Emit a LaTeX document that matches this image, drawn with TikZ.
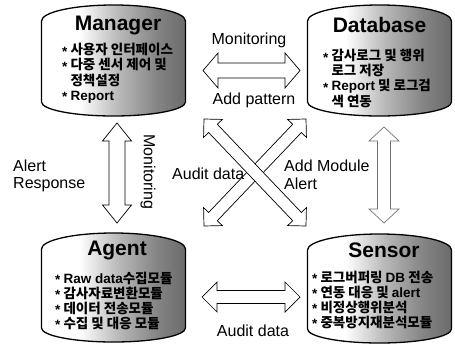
\documentclass[tikz,border=0pt]{standalone}
\usepackage{fontspec}
\setmainfont{Liberation Sans}
\newfontfamily\kofont{Noto Sans CJK KR}
\usetikzlibrary{calc}

% grey wash on the right half of each drum
\pgfdeclarehorizontalshading{drumwash}{100bp}{color(0bp)=(white); color(25bp)=(white); color(38bp)=(white); color(52bp)=(black!28); color(65bp)=(black!48); color(75bp)=(black!58); color(100bp)=(black!58)}

\tikzset{
  drum/.style={draw=black, line width=1.3pt, shading=drumwash},
  drumhead/.style={font=\bfseries\fontsize{21}{24}\selectfont, inner sep=0pt, anchor=base},
  itemline/.style={font=\kofont\bfseries\fontsize{13.5}{15}\selectfont, inner sep=0pt,
    text height=10pt, text depth=2.5pt, anchor=base west},
  lbl/.style={font=\fontsize{16}{18}\selectfont, inner sep=0pt},
  fatarrow/.style={draw=black, line width=0.7pt, fill=white, line join=miter},
}

% drum outline: #1 name, #2 centre x, #3 upper side y, #4 lower side y
\newcommand\drum[4]{%
  \path[drum] ({#2-72},#3) -- ({#2-72},#4)
    .. controls ({#2-72},{#4+0.5523*14}) and ({#2-0.5523*72},{#4+14}) .. (#2,{#4+14})
    .. controls ({#2+0.5523*72},{#4+14}) and ({#2+72},{#4+0.5523*14}) .. ({#2+72},#4)
    -- ({#2+72},#3)
    .. controls ({#2+72},{#3-0.5523*16}) and ({#2+0.5523*72},{#3-16}) .. (#2,{#3-16})
    .. controls ({#2-0.5523*72},{#3-16}) and ({#2-72},{#3-0.5523*16}) .. ({#2-72},#3) -- cycle;
  \node[minimum width=144pt, minimum height={#4-#3+30}, inner sep=0pt] (#1) at (#2,{(#3+#4)/2}) {};
}

% double-headed block arrow: #2 -> #3, head length #4, half head width #5, half shaft width #6
\newcommand\fatarrow[6][]{%
  \draw[fatarrow,#1] (#2)
    -- ($($(#2)!#4pt!(#3)$)!#5pt!90:(#3)$)
    -- ($($(#2)!#4pt!(#3)$)!#6pt!90:(#3)$)
    -- ($($(#3)!#4pt!(#2)$)!#6pt!-90:(#2)$)
    -- ($($(#3)!#4pt!(#2)$)!#5pt!-90:(#2)$)
    -- (#3)
    -- ($($(#3)!#4pt!(#2)$)!#5pt!90:(#2)$)
    -- ($($(#3)!#4pt!(#2)$)!#6pt!90:(#2)$)
    -- ($($(#2)!#4pt!(#3)$)!#6pt!-90:(#3)$)
    -- ($($(#2)!#4pt!(#3)$)!#5pt!-90:(#3)$)
    -- cycle;
}

\begin{document}
\begin{tikzpicture}[x=1pt, y=-1pt]
\useasboundingbox (0,0) rectangle (455,345);

% the four drums
\drum{manager}{113.5}{21}{102}
\drum{database}{379.5}{21}{102}
\drum{agent}{113.5}{249}{328}
\drum{sensor}{379.5}{250}{329}

% titles
\node[drumhead] (manager-t) at (118,31) {Manager};
\node[drumhead] (database-t) at (379.5,33) {Database};
\node[drumhead] (agent-t) at (117,255) {Agent};
\node[drumhead] (sensor-t) at (384,257) {Sensor};

% item lists (Latin words in the sans main face)
\newcommand\bul{\raisebox{-0.1em}{\rmfamily *}\ }
\newcommand\ind{\phantom{\bul}}
\newcommand\lat[1]{{\rmfamily #1}}
\node[itemline] (manager-1) at (62,55) {\bul 사용자 인터페이스};
\node[itemline] (manager-2) at (62,70) {\bul 다중 센서 제어 및};
\node[itemline] (manager-3) at (62,85) {\ind 정책설정};
\node[itemline] (manager-4) at (62,100) {\bul \lat{Report}};

\node[itemline] (database-1) at (323,61) {\bul 감사로그 및 행위};
\node[itemline] (database-2) at (323,76) {\ind 로그 저장};
\node[itemline] (database-3) at (323,91) {\bul \lat{Report} 및 로그검};
\node[itemline] (database-4) at (323,106) {\ind 색 연동};

\node[itemline] (agent-1) at (55,283) {\bul \lat{Raw data}수집모듈};
\node[itemline] (agent-2) at (55,298) {\bul 감사자료변환모듈};
\node[itemline] (agent-3) at (55,313) {\bul 데이터 전송모듈};
\node[itemline] (agent-4) at (55,328) {\bul 수집 및 대응 모듈};

\node[itemline] (sensor-1) at (312,282) {\bul 로그버퍼링 \lat{DB} 전송};
\node[itemline] (sensor-2) at (312,297) {\bul 연동 대응 및 \lat{alert}};
\node[itemline] (sensor-3) at (312,312) {\bul 비정상행위분석};
\node[itemline] (sensor-4) at (312,327) {\bul 중복방지재분석모듈};

% arrow end points
\coordinate (md-a) at (203,70.5);  \coordinate (md-b) at (300,70.5);
\coordinate (as-a) at (202,297);   \coordinate (as-b) at (300,297);
\coordinate (ma-a) at (117,123);   \coordinate (ma-b) at (117,223);
\coordinate (ds-a) at (384,127);   \coordinate (ds-b) at (384,223);
\coordinate (ms-a) at (204,119);   \coordinate (ms-b) at (306,226);
\coordinate (da-a) at (306,119);   \coordinate (da-b) at (204,226);

% block arrows
\fatarrow{md-a}{md-b}{15}{17.5}{7.5}
\fatarrow{as-a}{as-b}{15}{15}{6.5}
\fatarrow{ma-a}{ma-b}{18}{14.5}{8}
\fatarrow[draw=black!55]{ds-a}{ds-b}{14}{15}{6.5}
\fatarrow{da-a}{da-b}{13}{13}{6}
\fatarrow{ms-a}{ms-b}{13}{13}{6}

% arrow labels
\node[lbl, anchor=base] (l-mon) at (249,45) {Monitoring};
\node[lbl, anchor=base] (l-pat) at (254,104) {Add pattern};
\node[lbl, anchor=base] (l-aud2) at (253,336) {Audit data};
\node[lbl, anchor=base west] (l-alert) at (13,171) {Alert};
\node[lbl, anchor=base west] (l-resp) at (13,188) {Response};
\node[lbl, rotate=-90] (l-mon2) at (148,172) {Monitoring};
\node[lbl, anchor=base west] (l-aud) at (172,179) {Audit data};
\node[lbl, anchor=base west] (l-mod) at (284,171) {Add Module};
\node[lbl, anchor=base west] (l-alert2) at (284,189) {Alert};
\end{tikzpicture}
\end{document}
